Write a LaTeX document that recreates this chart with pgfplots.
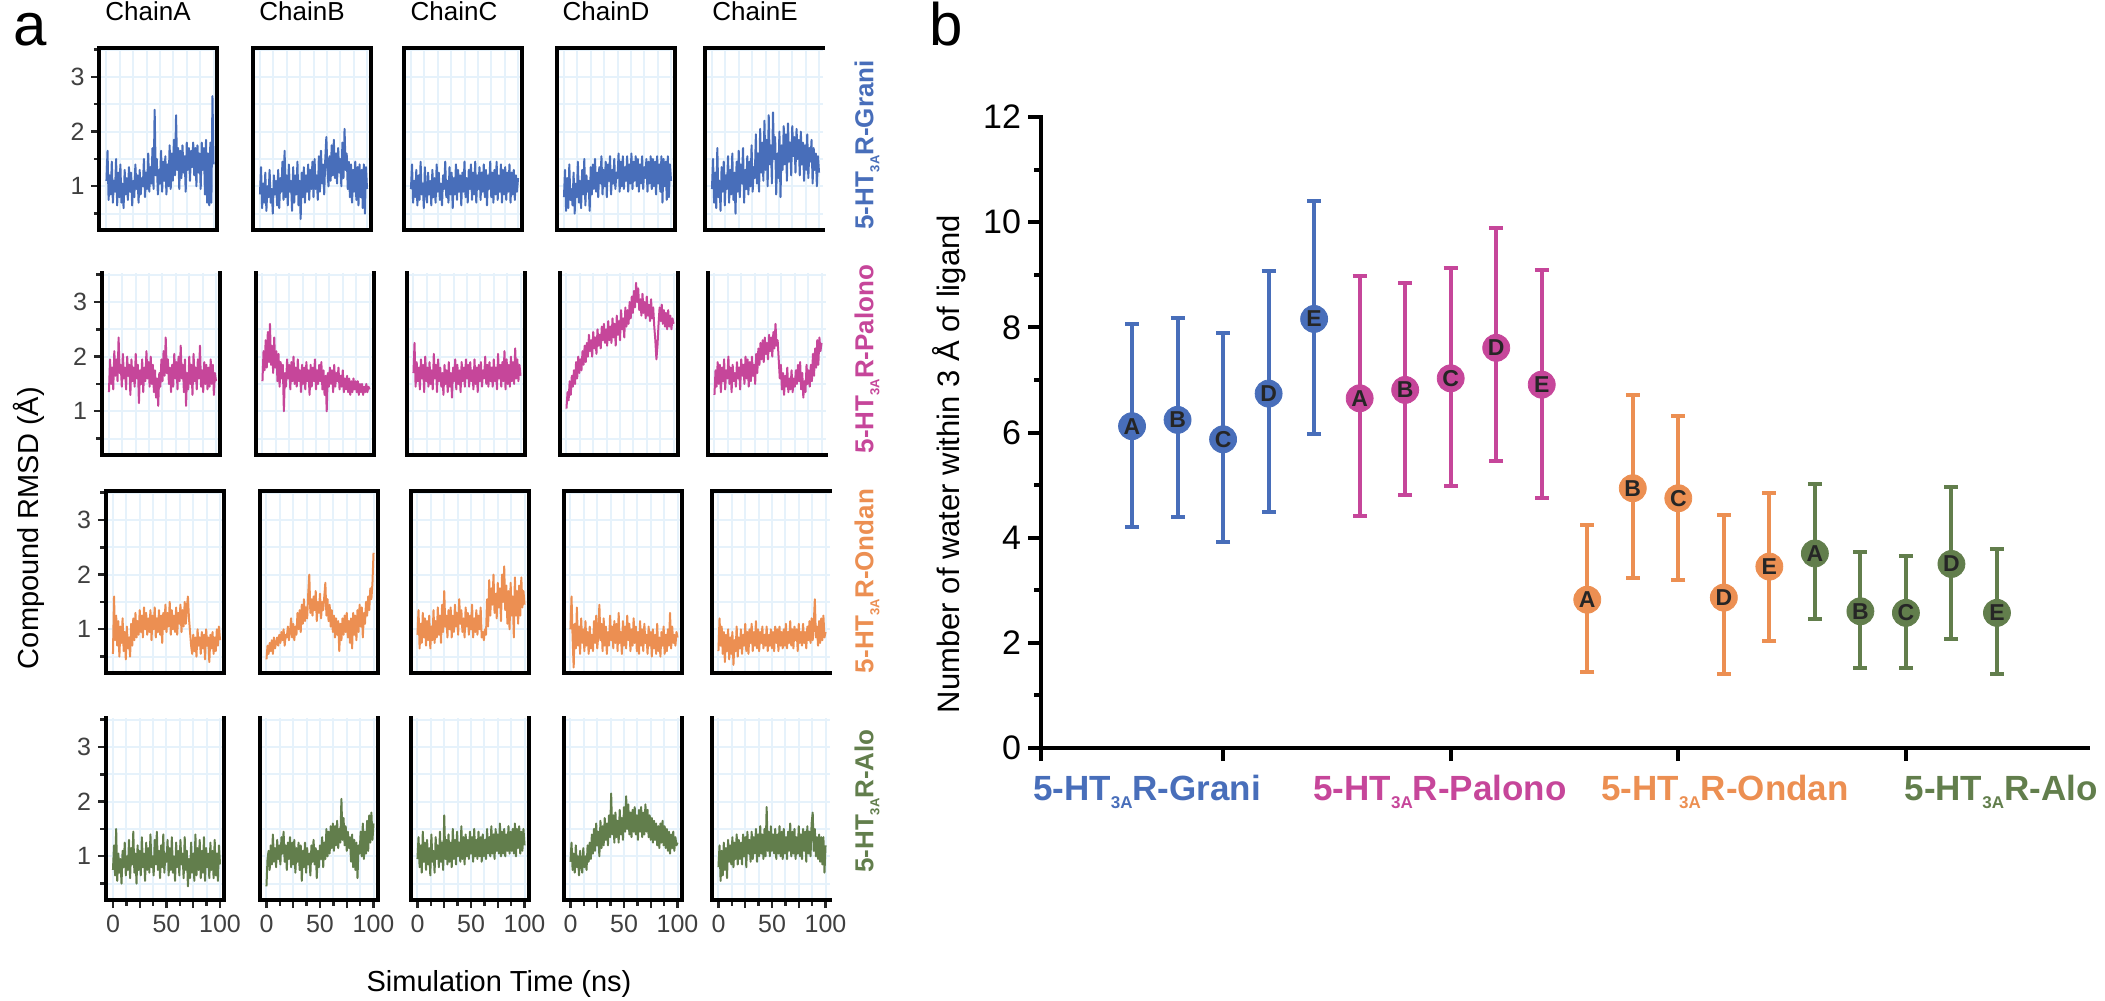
\documentclass[border=0pt]{standalone}
\usepackage{pgfplots}
\pgfplotsset{compat=1.18}
\usepackage{pgfplotstable}
\usepackage{fontspec}
\setmainfont{Liberation Sans}

\definecolor{cgrani}{RGB}{72,110,186}
\definecolor{cpalono}{RGB}{198,70,154}
\definecolor{condan}{RGB}{236,143,82}
\definecolor{calo}{RGB}{98,126,76}
\definecolor{gridc}{RGB}{230,242,251}
\definecolor{tickc}{RGB}{64,64,64}

% ---- RMSD traces (ns, Angstrom), one table per compound, columns = chains
\pgfplotstableread{
t A B C D E
0 1.10 0.85 0.95 0.80 0.95
1 1.65 1.35 1.40 1.30 1.50
2 0.75 0.60 0.70 0.55 0.70
3 1.20 1.05 1.10 1.15 1.25
4 0.85 0.70 0.80 0.60 0.60
5 1.45 1.25 1.30 1.40 1.70
6 0.70 0.55 0.65 0.75 0.80
7 1.10 1.00 1.20 0.95 1.10
8 0.90 0.80 0.75 0.65 0.55
9 1.50 1.30 1.45 1.25 1.35
10 0.65 0.70 0.85 0.50 0.90
11 1.25 0.95 1.05 1.05 1.45
12 0.80 0.50 0.60 0.80 0.65
13 1.40 1.20 1.35 1.45 1.20
14 0.70 0.85 0.90 0.70 0.95
15 1.05 1.10 0.70 1.10 1.55
16 0.60 0.65 1.25 0.60 0.70
17 1.30 1.30 0.85 1.30 1.30
18 0.85 0.60 1.10 0.85 0.85
19 1.15 1.15 0.65 1.50 1.60
20 0.75 0.90 1.30 0.65 0.75
21 1.35 1.45 0.80 1.20 1.25
22 0.90 0.75 1.15 0.90 0.50
23 1.25 1.65 0.70 1.10 1.45
24 0.65 0.80 1.40 0.55 0.90
25 1.10 1.20 0.90 1.35 1.65
26 0.80 0.65 1.25 0.85 0.80
27 1.40 1.40 0.75 1.40 1.40
28 0.95 0.90 1.05 0.95 1.05
29 1.20 1.10 0.65 1.50 1.70
30 0.70 0.55 1.20 0.90 0.70
31 1.30 1.35 0.95 1.25 1.30
32 0.85 0.70 1.45 0.80 0.95
33 1.15 1.20 0.80 1.35 1.55
34 1.00 0.85 1.10 1.05 0.85
35 1.50 1.45 0.70 1.55 1.45
36 0.80 0.65 1.35 0.85 1.00
37 1.25 1.10 0.85 1.30 1.75
38 0.95 0.40 1.25 1.00 0.90
39 1.60 1.25 0.60 1.45 1.35
40 0.90 0.80 1.15 0.80 1.15
41 1.35 1.35 0.85 1.40 1.95
42 1.05 0.70 1.40 1.10 1.05
43 1.70 1.20 0.75 1.55 1.60
44 0.95 0.90 1.30 0.85 0.90
45 2.40 1.40 0.90 1.30 2.05
46 1.20 0.75 1.20 1.05 1.25
47 1.50 1.30 0.65 1.50 1.80
48 0.85 0.95 1.25 0.95 1.10
49 1.30 1.45 0.90 1.25 2.20
50 1.05 0.80 1.45 1.15 1.30
51 1.65 1.50 0.80 1.60 1.85
52 0.90 0.95 1.15 0.90 1.00
53 1.45 1.20 0.70 1.45 2.30
54 1.10 0.75 1.30 1.00 1.40
55 1.55 1.55 0.95 1.55 1.75
56 0.85 0.90 1.40 0.95 1.05
57 1.40 1.65 0.75 1.35 2.35
58 1.00 1.05 1.25 1.10 1.50
59 1.75 1.40 0.85 1.55 1.90
60 0.95 0.85 1.45 0.90 0.85
61 1.60 1.50 0.70 1.40 1.60
62 1.10 1.90 1.20 1.05 1.15
63 1.85 1.30 0.95 1.60 2.00
64 1.20 1.00 1.35 0.95 0.80
65 2.30 1.55 0.75 1.45 1.75
66 1.30 1.10 1.25 1.10 1.30
67 1.70 1.75 0.90 1.55 2.10
68 0.95 1.20 1.40 1.00 1.40
69 1.65 1.85 0.80 1.50 1.95
70 1.15 1.15 1.30 0.90 1.10
71 1.75 1.60 0.65 1.40 2.15
72 1.25 1.05 1.20 1.05 1.45
73 1.55 1.70 0.95 1.55 1.80
74 0.90 1.25 1.45 0.95 1.20
75 1.80 1.50 0.80 1.35 2.10
76 1.30 1.00 1.25 1.15 1.55
77 1.70 1.80 0.70 1.50 1.90
78 1.10 1.15 1.30 0.90 1.25
79 1.65 2.05 0.85 1.45 2.05
80 1.35 1.30 1.45 1.05 1.50
81 1.80 1.60 0.75 1.55 1.85
82 1.20 0.95 1.20 0.95 1.20
83 1.70 1.45 0.90 1.50 2.00
84 1.00 0.80 1.40 1.00 1.40
85 1.75 1.40 0.70 1.45 1.80
86 1.25 0.70 1.30 0.85 1.10
87 1.60 1.30 0.85 1.55 1.75
88 0.95 0.90 1.35 1.05 1.30
89 1.80 1.45 0.75 1.40 1.95
90 1.30 0.75 1.25 0.90 1.15
91 1.70 1.35 0.90 1.55 1.70
92 0.85 0.65 1.40 0.70 1.45
93 1.85 1.40 0.70 1.50 1.85
94 0.70 0.80 1.25 1.00 1.05
95 1.60 1.30 0.85 1.45 1.70
96 0.65 0.60 1.30 0.75 1.30
97 1.80 1.40 0.75 1.55 1.60
98 0.70 0.50 1.20 0.80 1.00
99 2.65 1.35 0.90 1.40 1.55
100 1.40 0.95 1.15 1.10 1.25
}\grani

\pgfplotstableread{
t A B C D E
0 1.35 1.55 1.70 1.05 1.30
1 1.95 2.10 2.25 1.35 1.75
2 1.50 1.75 1.45 1.20 1.45
3 1.80 2.30 1.90 1.55 1.90
4 1.40 1.80 1.55 1.30 1.50
5 2.10 2.45 1.80 1.65 1.85
6 1.65 1.90 1.40 1.45 1.35
7 1.95 2.60 1.95 1.75 1.80
8 1.55 1.85 1.60 1.50 1.55
9 2.35 2.20 1.85 1.90 1.95
10 1.70 1.70 1.35 1.60 1.40
11 1.85 2.35 2.00 2.00 1.75
12 1.45 1.80 1.55 1.70 1.60
13 2.05 2.10 1.80 1.95 2.00
14 1.60 1.55 1.45 1.75 1.50
15 1.80 2.05 1.90 2.10 1.80
16 1.40 1.45 1.50 1.85 1.35
17 2.00 1.90 1.75 2.20 1.85
18 1.65 1.60 1.40 1.90 1.55
19 1.85 1.85 2.05 2.25 1.70
20 1.30 1.00 1.60 2.00 1.45
21 1.95 1.70 1.85 2.40 1.90
22 1.55 1.45 1.35 2.10 1.60
23 1.80 1.95 1.95 2.30 1.80
24 1.45 1.60 1.55 2.00 1.40
25 2.05 1.85 1.80 2.45 1.95
26 1.60 1.40 1.45 2.15 1.65
27 1.85 1.90 1.70 2.35 1.85
28 1.15 1.55 1.30 2.05 1.50
29 1.75 2.00 1.85 2.50 2.00
30 1.50 1.50 1.50 2.20 1.60
31 1.95 1.80 1.75 2.40 1.95
32 1.35 1.45 1.35 2.15 1.45
33 1.80 1.95 1.90 2.55 1.90
34 1.55 1.55 1.45 2.30 1.55
35 2.10 1.75 1.70 2.60 2.00
36 1.60 1.35 1.25 2.25 1.65
37 1.90 1.85 1.80 2.50 1.85
38 1.45 1.50 1.55 2.20 1.50
39 2.00 1.80 1.95 2.65 2.05
40 1.50 1.40 1.40 2.30 1.70
41 1.85 1.90 1.85 2.55 2.15
42 1.35 1.55 1.50 2.25 1.85
43 1.75 1.75 1.75 2.70 2.25
44 1.25 1.30 1.35 2.35 1.95
45 1.60 1.85 1.90 2.60 2.30
46 1.10 1.45 1.55 2.20 1.90
47 1.70 1.80 1.80 2.75 2.35
48 1.45 1.55 1.45 2.40 2.05
49 1.95 1.95 1.95 2.65 2.25
50 1.55 1.40 1.60 2.30 1.95
51 2.10 1.75 1.85 2.85 2.40
52 1.65 1.50 1.45 2.50 2.10
53 2.35 1.85 1.90 2.70 2.35
54 1.70 1.55 1.55 2.35 2.00
55 1.95 1.90 1.75 2.90 2.45
56 1.50 1.40 1.40 2.55 2.15
57 1.80 1.75 1.95 2.85 2.60
58 1.35 1.30 1.50 2.60 2.20
59 1.85 1.65 1.80 3.00 2.30
60 1.45 1.00 1.35 2.70 1.95
61 2.05 1.70 1.85 3.10 1.60
62 1.60 1.45 1.55 2.80 1.85
63 1.90 1.80 1.90 3.20 1.40
64 1.40 1.50 1.45 2.90 1.70
65 2.00 1.75 1.75 3.35 1.30
66 1.55 1.35 1.60 3.00 1.65
67 2.20 1.85 2.00 3.25 1.45
68 1.60 1.45 1.50 2.85 1.80
69 1.85 1.70 1.85 3.05 1.35
70 1.35 1.55 1.45 2.75 1.60
71 1.95 1.80 1.90 3.15 1.40
72 1.10 1.40 1.55 2.80 1.75
73 1.70 1.65 1.80 3.00 1.35
74 1.40 1.45 1.45 2.70 1.60
75 2.00 1.75 1.95 3.10 1.45
76 1.50 1.35 1.55 2.75 1.75
77 1.85 1.60 1.80 2.95 1.50
78 1.30 1.40 1.40 2.65 1.85
79 2.05 1.65 2.05 3.05 1.55
80 1.55 1.35 1.60 2.70 1.90
81 1.80 1.60 1.85 2.90 1.40
82 1.40 1.30 1.45 2.55 1.70
83 1.95 1.55 1.90 2.30 1.25
84 1.60 1.35 1.55 1.95 1.55
85 2.20 1.60 2.10 2.20 1.35
86 1.45 1.40 1.40 2.60 1.85
87 1.75 1.55 1.95 2.90 1.50
88 1.35 1.35 1.50 2.65 1.75
89 1.90 1.55 1.85 2.95 1.45
90 1.50 1.30 1.45 2.60 1.85
91 1.85 1.50 2.00 2.85 1.55
92 1.40 1.35 1.55 2.55 2.05
93 1.80 1.50 1.90 2.80 1.65
94 1.45 1.30 1.50 2.50 2.15
95 1.95 1.45 2.15 2.85 1.80
96 1.50 1.35 1.60 2.55 2.30
97 1.85 1.50 1.95 2.75 1.85
98 1.30 1.35 1.55 2.50 2.35
99 1.70 1.45 1.85 2.70 2.10
100 1.55 1.40 1.65 2.60 2.25
}\palono

\pgfplotstableread{
t A B C D E
0 0.55 0.45 0.90 1.00 0.60
1 1.60 0.70 1.35 1.60 1.20
2 0.80 0.55 0.65 0.85 0.70
3 1.25 0.75 1.10 0.30 1.05
4 0.70 0.60 0.75 1.10 0.55
5 1.15 0.80 1.30 0.65 0.95
6 0.50 0.55 0.85 1.40 0.40
7 1.05 0.85 1.20 0.70 0.90
8 0.75 0.65 0.70 1.05 0.60
9 1.20 0.75 1.15 0.55 1.00
10 0.60 0.85 0.80 1.20 0.45
11 0.95 0.70 1.25 0.75 0.85
12 0.45 0.90 0.65 1.00 0.55
13 1.05 0.75 1.05 0.60 0.95
14 0.65 0.95 0.80 1.15 0.35
15 0.85 0.80 1.35 0.70 0.80
16 0.50 1.00 0.75 0.95 0.60
17 1.10 0.70 1.15 0.55 1.05
18 0.70 0.90 0.85 1.05 0.50
19 1.20 0.85 1.40 0.65 0.85
20 0.80 1.05 0.90 0.90 0.65
21 1.30 0.80 1.25 0.60 1.00
22 0.85 0.95 0.75 1.15 0.55
23 1.15 1.20 1.45 0.75 0.90
24 0.90 0.85 0.95 1.25 0.70
25 1.35 1.10 1.70 0.65 1.10
26 0.95 0.80 1.05 0.90 0.60
27 1.25 1.05 1.25 1.45 0.95
28 0.85 0.90 0.85 0.80 0.55
29 1.40 1.30 1.35 1.10 1.00
30 1.00 1.00 1.00 0.60 0.75
31 1.30 1.35 1.40 1.20 1.10
32 0.90 0.95 0.85 0.70 0.60
33 1.20 1.45 1.25 1.05 0.95
34 0.95 1.10 0.95 0.55 0.70
35 1.35 1.55 1.45 0.95 1.15
36 0.80 1.15 1.05 0.70 0.65
37 1.25 1.40 1.30 1.25 1.00
38 1.00 1.20 0.90 0.80 0.60
39 1.40 1.65 1.55 1.05 0.95
40 0.85 2.00 1.10 0.65 0.75
41 1.20 1.30 1.35 1.15 1.05
42 0.95 1.55 0.95 0.75 0.65
43 1.35 1.25 1.20 1.10 0.90
44 0.90 1.60 0.85 0.60 0.70
45 1.25 1.35 1.40 1.30 1.05
46 0.75 1.70 1.05 0.75 0.60
47 1.30 1.15 1.30 0.95 0.90
48 1.00 1.50 0.90 0.55 0.70
49 1.45 1.30 1.25 1.15 1.00
50 0.95 1.65 1.00 0.70 0.65
51 1.30 1.20 1.45 1.05 0.95
52 1.05 1.50 0.85 0.65 0.60
53 1.50 1.35 1.20 1.25 1.05
54 0.90 1.60 0.95 0.80 0.75
55 1.35 1.85 1.35 1.10 1.00
56 1.00 1.25 0.90 0.60 0.60
57 1.25 1.55 1.25 1.00 1.05
58 0.95 1.15 1.00 0.70 0.70
59 1.40 1.45 1.40 1.20 0.95
60 0.90 1.05 0.85 0.75 0.65
61 1.30 1.35 0.95 1.05 1.00
62 1.10 0.95 0.80 0.60 0.70
63 1.45 1.25 1.00 0.95 1.10
64 0.95 0.85 0.90 0.55 0.65
65 1.35 1.20 1.55 1.15 0.95
66 1.05 0.90 1.05 0.70 0.75
67 1.50 1.15 1.90 1.00 1.15
68 1.10 0.60 1.25 0.60 0.70
69 1.40 1.10 1.75 1.10 1.00
70 1.60 0.80 1.45 0.75 0.65
71 1.20 1.20 2.00 0.90 1.05
72 0.95 0.90 1.30 0.55 0.80
73 0.70 1.25 1.65 1.05 1.00
74 0.55 0.95 1.20 0.70 0.60
75 0.90 1.30 1.85 0.95 1.10
76 0.60 0.85 1.40 0.50 0.75
77 0.85 1.15 1.75 1.00 0.95
78 0.50 0.75 1.15 0.65 0.70
79 1.00 1.20 2.00 0.90 1.10
80 0.70 0.65 1.50 0.55 0.75
81 0.85 1.30 2.15 1.10 0.95
82 0.55 0.90 1.35 0.60 0.65
83 0.95 1.25 1.80 0.85 1.05
84 0.65 0.80 1.10 0.50 0.80
85 0.90 1.35 1.70 0.95 1.15
86 0.45 0.95 1.00 0.70 0.75
87 1.00 1.45 1.85 1.05 1.20
88 0.70 1.05 1.25 0.55 0.80
89 0.85 1.40 1.60 0.90 1.10
90 0.40 0.85 0.85 0.60 1.55
91 0.90 1.30 1.95 1.00 0.85
92 0.65 1.10 1.25 0.70 1.05
93 0.95 1.50 1.70 1.30 0.70
94 0.55 1.25 1.10 0.65 1.15
95 0.85 1.60 1.80 1.05 0.75
96 0.60 1.35 1.25 0.75 1.20
97 1.00 1.75 1.95 0.90 0.80
98 0.70 1.55 1.40 0.70 1.25
99 1.05 1.85 1.70 0.95 0.85
100 0.80 2.40 1.45 0.85 0.95
}\ondan

\pgfplotstableread{
t A B C D E
0 0.75 0.45 0.95 0.90 0.80
1 1.20 0.95 1.35 1.25 1.20
2 0.65 1.10 0.80 0.75 0.55
3 1.50 0.75 1.20 1.05 1.10
4 0.55 1.20 0.70 0.70 0.65
5 1.05 0.85 1.45 1.20 1.25
6 0.70 1.40 0.90 0.80 0.75
7 0.95 0.90 1.25 1.00 1.15
8 0.50 1.15 0.75 0.65 0.60
9 1.10 0.80 1.30 1.10 1.30
10 0.80 1.30 0.85 0.85 0.90
11 1.25 0.95 1.15 0.70 1.20
12 0.65 1.20 0.65 1.15 0.85
13 1.00 0.85 1.40 0.80 1.35
14 0.75 1.35 0.90 1.00 0.80
15 1.30 1.05 1.10 0.75 1.25
16 0.60 1.45 0.70 1.20 0.95
17 1.15 0.90 1.35 0.90 1.40
18 0.85 1.20 0.95 1.25 0.85
19 1.45 0.75 1.20 0.95 1.30
20 0.70 1.25 0.80 1.40 0.95
21 1.05 0.95 1.45 1.05 1.25
22 0.50 1.35 0.90 1.50 0.85
23 1.20 0.80 1.25 1.10 1.40
24 0.75 1.25 0.75 1.60 1.00
25 1.10 0.85 1.75 1.20 1.35
26 0.65 1.30 0.95 1.45 0.80
27 1.35 0.70 1.30 1.00 1.45
28 0.80 1.15 0.85 1.65 1.05
29 1.05 0.90 1.40 1.15 1.30
30 0.55 1.25 0.90 1.55 0.90
31 1.25 0.75 1.25 1.20 1.45
32 0.75 1.20 0.80 1.70 0.95
33 1.15 0.55 1.50 1.30 1.35
34 0.70 1.10 0.95 1.60 1.05
35 1.40 0.80 1.30 1.20 1.50
36 0.80 1.25 0.85 1.75 0.90
37 1.00 0.70 1.45 1.35 1.40
38 0.65 1.15 1.00 2.15 1.00
39 1.30 0.85 1.25 1.40 1.55
40 0.85 1.05 0.90 1.75 1.05
41 1.45 0.65 1.55 1.25 1.40
42 0.75 1.20 0.95 1.80 0.95
43 1.10 0.90 1.35 1.35 1.50
44 0.60 1.30 0.85 1.65 1.00
45 1.20 0.85 1.40 1.25 1.90
46 0.80 1.15 1.00 1.85 1.10
47 1.40 0.60 1.30 1.40 1.45
48 0.70 1.10 0.95 1.70 1.00
49 1.05 0.80 1.45 1.30 1.55
50 0.90 1.20 1.05 1.90 1.10
51 1.30 0.95 1.35 1.45 1.40
52 0.65 1.35 0.90 2.10 1.05
53 1.15 0.80 1.50 1.50 1.50
54 0.75 1.25 1.00 1.95 0.95
55 1.35 0.95 1.30 1.40 1.40
56 0.70 1.50 0.95 1.80 1.05
57 1.00 1.00 1.45 1.35 1.55
58 0.55 1.45 1.00 1.85 1.00
59 1.25 1.05 1.35 1.45 1.45
60 0.80 1.55 0.90 1.90 0.95
61 1.10 1.15 1.40 1.40 1.50
62 0.65 1.60 1.00 1.75 1.05
63 1.30 1.10 1.30 1.30 1.35
64 0.85 1.55 0.95 1.85 0.95
65 1.05 1.20 1.50 1.45 1.45
66 0.60 1.65 1.05 1.90 1.10
67 1.35 1.15 1.35 1.35 1.60
68 0.75 1.50 1.00 1.80 1.00
69 1.10 1.25 1.55 1.40 1.45
70 0.45 2.05 1.05 1.95 1.05
71 0.95 1.30 1.40 1.45 1.50
72 0.60 1.70 0.95 1.85 0.95
73 1.25 1.20 1.50 1.35 1.35
74 0.70 1.55 1.10 1.75 1.05
75 1.05 1.10 1.40 1.30 1.55
76 0.55 1.45 1.05 1.70 1.00
77 1.40 1.15 1.60 1.25 1.40
78 0.65 1.35 1.00 1.65 0.95
79 1.15 0.90 1.45 1.30 1.50
80 0.75 1.40 1.05 1.60 1.10
81 1.30 0.80 1.50 1.20 1.45
82 0.60 1.30 1.00 1.55 0.90
83 1.10 0.75 1.40 1.15 1.55
84 0.70 1.25 1.10 1.60 1.05
85 1.35 0.60 1.55 1.25 1.45
86 0.55 1.20 1.05 1.65 1.00
87 1.15 1.05 1.45 1.20 1.60
88 0.80 1.45 1.10 1.55 1.80
89 1.05 1.00 1.50 1.15 1.10
90 0.60 1.60 1.05 1.50 1.50
91 1.25 0.95 1.60 1.10 1.00
92 0.75 1.45 1.00 1.45 1.35
93 1.10 1.05 1.50 1.05 0.95
94 0.60 1.65 1.15 1.40 1.40
95 1.30 1.10 1.55 1.15 0.90
96 0.65 1.75 1.05 1.45 1.35
97 1.05 1.25 1.45 1.10 0.85
98 0.55 1.80 1.10 1.35 1.35
99 1.20 1.30 1.50 1.20 0.70
100 0.85 1.60 1.20 1.25 1.20
}\alo

% ---- water count: x position, mean, +err, -err, chain
\pgfplotstableread{
x y ep em l
1 6.12 1.94 1.91 A
2 6.24 1.94 1.85 B
3 5.87 2.03 1.96 C
4 6.74 2.33 2.25 D
5 8.16 2.24 2.19 E
}\wgrani
\pgfplotstableread{
x y ep em l
6 6.65 2.32 2.23 A
7 6.81 2.04 1.99 B
8 7.03 2.10 2.05 C
9 7.61 2.27 2.16 D
10 6.91 2.18 2.16 E
}\wpalono
\pgfplotstableread{
x y ep em l
11 2.82 1.42 1.38 A
12 4.94 1.78 1.70 B
13 4.75 1.57 1.55 C
14 2.86 1.57 1.45 D
15 3.45 1.40 1.41 E
}\wondan
\pgfplotstableread{
x y ep em l
16 3.70 1.32 1.25 A
17 2.60 1.13 1.07 B
18 2.57 1.08 1.04 C
19 3.50 1.46 1.42 D
20 2.57 1.22 1.16 E
}\walo

\newcommand\sub[2]{\raisebox{-0.45ex}{\fontsize{#1}{#1}\selectfont #2}}
\tikzset{frm/.style={line width=2pt, black, line cap=rect, line join=miter}}
\pgfplotsset{
  rmsd/.style={
    scale only axis, width=59pt, height=91pt, anchor=south west,
    xmin=-6.5, xmax=103.7, ymin=0.2, ymax=3.53,
    axis line style={draw=none},
    xtick={0,25,50,75,100}, minor xtick={12.5,37.5,62.5,87.5},
    ytick={1,2,3}, minor ytick={0.5,1.5,2.5,3.5},
    grid=both,
    major grid style={draw=gridc, line width=1pt},
    minor grid style={draw=gridc, line width=1pt},
    tick pos=left, tick align=outside, major tick length=4pt,
    every tick/.style={draw=black!85, line width=1.2pt},
    minor tick style={draw=none},
    xtick style={draw=none}, ytick style={draw=none},
    xticklabels={}, yticklabels={},
    ticklabel style={font=\fontsize{12.5}{12.5}\selectfont, text=tickc},
    clip=false,
  },
  ylab/.style={yticklabels={1,2,3}, ytick style={draw=black!85}},
  xlab/.style={xticklabels={0,,50,,100}, xtick style={draw=black!85}},
  water/.style={
    only marks, mark=*, mark size=6.75pt,
    color=#1, mark options={draw=#1, fill=#1},
    error bars/.cd, y dir=both, y explicit,
    error bar style={line width=2pt, #1},
    error mark options={#1, line width=2pt, mark size=3.5pt, rotate=90},
    /pgfplots/.cd,
    nodes near coords, point meta=explicit symbolic,
    every node near coord/.append style={anchor=center,
      font=\bfseries\fontsize{11.5}{11.5}\selectfont, text=black!85},
  },
}

% #1 x, #2 y (pt), #3 table, #4 chain, #5 colour, #6 axis options, #7 frame
\newcommand\panel[7]{%
  \begin{axis}[rmsd, at={(#1pt,#2pt)}, #6]
    \addplot[#5, line width=1pt, line join=round] table[x=t, y=#4] {#3};
    #7
  \end{axis}}
\newcommand\fFull{\draw[frm] (rel axis cs:0,1) -- (rel axis cs:0,0) -- (rel axis cs:1,0) -- (rel axis cs:1,1) -- cycle;}
\newcommand\fNoR{\draw[frm] (rel axis cs:1,1) -- (rel axis cs:0,1) -- (rel axis cs:0,0) -- (rel axis cs:1,0);}
\newcommand\fNoT{\draw[frm] (rel axis cs:0,1) -- (rel axis cs:0,0) -- (rel axis cs:1,0) -- (rel axis cs:1,1);}
\newcommand\fL{\draw[frm] (rel axis cs:0,1) -- (rel axis cs:0,0) -- (rel axis cs:1,0);}

\begin{document}
\begin{tikzpicture}
\useasboundingbox (0,0) rectangle (1052.5pt,-500.5pt);

% ---------- panel a ----------
\panel{49.75}{-115}{\grani}{A}{cgrani}{ylab}{\fFull}
\panel{126.5}{-115}{\grani}{B}{cgrani}{}{\fFull}
\panel{202}{-115}{\grani}{C}{cgrani}{}{\fFull}
\panel{278.5}{-115}{\grani}{D}{cgrani}{}{\fFull}
\panel{352.5}{-115}{\grani}{E}{cgrani}{}{\fNoR}

\panel{51}{-227.5}{\palono}{A}{cpalono}{ylab}{\fNoT}
\panel{127.75}{-227.5}{\palono}{B}{cpalono}{}{\fNoT}
\panel{203.25}{-227.5}{\palono}{C}{cpalono}{}{\fNoT}
\panel{279.75}{-227.5}{\palono}{D}{cpalono}{}{\fNoT}
\panel{353.75}{-227.5}{\palono}{E}{cpalono}{}{\fL}

\panel{53}{-336.5}{\ondan}{A}{condan}{ylab}{\fFull}
\panel{129.75}{-336.5}{\ondan}{B}{condan}{}{\fFull}
\panel{205.25}{-336.5}{\ondan}{C}{condan}{}{\fFull}
\panel{281.75}{-336.5}{\ondan}{D}{condan}{}{\fFull}
\panel{355.75}{-336.5}{\ondan}{E}{condan}{}{\fNoR}

\panel{53}{-450}{\alo}{A}{calo}{ylab,xlab}{\fNoT}
\panel{129.75}{-450}{\alo}{B}{calo}{xlab}{\fNoT}
\panel{205.25}{-450}{\alo}{C}{calo}{xlab}{\fNoT}
\panel{281.75}{-450}{\alo}{D}{calo}{xlab}{\fNoT}
\panel{355.75}{-450}{\alo}{E}{calo}{xlab}{\fL}

\begin{scope}[every node/.style={font=\fontsize{13}{13}\selectfont, anchor=base}]
  \node at (74pt,-10pt) {ChainA};
  \node at (151pt,-10pt) {ChainB};
  \node at (227pt,-10pt) {ChainC};
  \node at (303pt,-10pt) {ChainD};
  \node at (377.5pt,-10pt) {ChainE};
\end{scope}
\begin{scope}[every node/.style={font=\bfseries\fontsize{13}{13}\selectfont, rotate=90, anchor=center}]
  \node[text=cgrani]  at (433.5pt,-72.5pt)  {5-HT\sub{6.5}{3A}R-Grani};
  \node[text=cpalono] at (433.5pt,-179.5pt) {5-HT\sub{6.5}{3A}R-Palono};
  \node[text=condan]  at (433.5pt,-290.5pt) {5-HT\sub{6.5}{3A}R-Ondan};
  \node[text=calo]    at (433.5pt,-400.5pt) {5-HT\sub{6.5}{3A}R-Alo};
\end{scope}
\node[rotate=90, font=\fontsize{14.5}{14.5}\selectfont] at (14.5pt,-264pt) {Compound RMSD (Å)};
\node[font=\fontsize{14.5}{14.5}\selectfont] at (249.5pt,-492pt) {Simulation Time (ns)};
\node[anchor=base, font=\fontsize{30}{30}\selectfont] at (15pt,-22.5pt) {a};
\node[anchor=base, font=\fontsize{30}{30}\selectfont] at (473pt,-22.5pt) {b};

% ---------- panel b ----------
\begin{axis}[
  at={(520.5pt,-374pt)}, anchor=south west,
  scale only axis, width=523.5pt, height=315.5pt,
  xmin=-1, xmax=22, ymin=0, ymax=12,
  axis x line*=bottom, axis y line*=left,
  axis line style={line width=2pt, line cap=rect},
  xtick={-1,3,8,13,18}, xticklabels={},
  ytick={0,2,...,12}, minor ytick={1,3,...,11},
  tick align=outside, major tick length=6.5pt, minor tick length=3.5pt,
  every tick/.style={black, line width=2pt},
  yticklabel style={font=\fontsize{17}{17}\selectfont},
  /pgf/number format/assume math mode=true,
  ylabel={Number of water within 3 Å of ligand},
  ylabel style={at={(axis description cs:-0.088,0.45)}, anchor=center,
    font=\fontsize{15.5}{15.5}\selectfont},
  clip=false,
]
\addplot[water=cgrani]  table[x=x, y=y, y error plus=ep, y error minus=em, meta=l] {\wgrani};
\addplot[water=cpalono] table[x=x, y=y, y error plus=ep, y error minus=em, meta=l] {\wpalono};
\addplot[water=condan]  table[x=x, y=y, y error plus=ep, y error minus=em, meta=l] {\wondan};
\addplot[water=calo]    table[x=x, y=y, y error plus=ep, y error minus=em, meta=l] {\walo};
\end{axis}

\begin{scope}[every node/.style={font=\bfseries\fontsize{17.5}{17.5}\selectfont, anchor=center}]
  \node[text=cgrani]  at (573.5pt,-396pt) {5-HT\sub{8.5}{3A}R-Grani};
  \node[text=cpalono] at (720pt,-396pt)   {5-HT\sub{8.5}{3A}R-Palono};
  \node[text=condan]  at (862.5pt,-396pt) {5-HT\sub{8.5}{3A}R-Ondan};
  \node[text=calo]    at (1000.5pt,-396pt) {5-HT\sub{8.5}{3A}R-Alo};
\end{scope}
\end{tikzpicture}
\end{document}
